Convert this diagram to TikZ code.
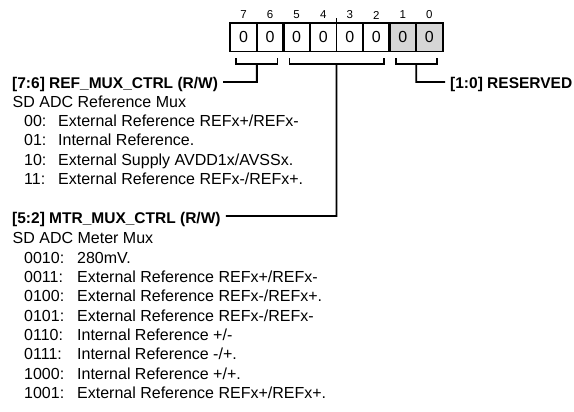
\documentclass[tikz,border=0pt]{standalone}
\usepackage{fontspec}
\setmainfont{Liberation Sans}
\definecolor{resfill}{HTML}{D6D6D6}
\begin{document}
\begin{tikzpicture}[x=1bp,y=-1bp,
  bitbox/.style={draw, line width=1.8bp, minimum width=26.55bp, minimum height=28.5bp,
    inner sep=0pt, outer sep=0pt, font=\fontsize{16bp}{19bp}\selectfont},
  bitnum/.style={inner sep=0pt, font=\fontsize{11.5bp}{13bp}\selectfont},
  lbl/.style={anchor=base west, inner sep=0pt, font=\fontsize{15.5bp}{19bp}\selectfont\bfseries},
  txt/.style={anchor=base west, inner sep=0pt, font=\fontsize{16bp}{19bp}\selectfont},
  wire/.style={line width=1.8bp},
  fieldsep/.style={line width=3bp}]
\useasboundingbox (0,0) rectangle (574,411);
\coordinate (numrow) at (0,15);
% register boxes
\foreach \b/\f [count=\i from 0] in {7/white,6/white,5/white,4/white,3/white,2/white,1/resfill,0/resfill}{
  \node[bitbox, fill=\f] (b\b) at ({230.3+26.55*(\i+0.5)},37.25) {0};
  \node[bitnum] (n\b) at (b\b.center |- numrow) {\b};
}
\draw[fieldsep] (b6.north east) -- (b6.south east);
\draw[fieldsep] (b2.north east) -- (b2.south east);
\draw[line width=1.5bp] (b4.north east) -- ++(0,-5);
% brackets
\draw[wire] ([shift={(6bp,-6.5bp)}]b7.south west) |- ([shift={(-6bp,-12.5bp)}]b6.south east) -- ++(0,-6);
\draw[wire] ([shift={(6bp,-6.5bp)}]b5.south west) |- ([shift={(-6bp,-12.5bp)}]b2.south east) -- ++(0,-6);
\draw[wire] ([shift={(6bp,-6.5bp)}]b1.south west) |- ([shift={(-6bp,-12.5bp)}]b0.south east) -- ++(0,-6);
% labels
\node[lbl] (lab76) at (12,88.5) {[7:6] REF\_MUX\_CTRL (R/W)};
\node[lbl] (lab52) at (12,223) {[5:2] MTR\_MUX\_CTRL (R/W)};
\node[lbl] (lab10) at (450,88.5) {[1:0] RESERVED};
\coordinate (e76) at ([xshift=5bp]lab76.east);
\coordinate (e52) at ([xshift=5bp]lab52.east);
\coordinate (w10) at ([xshift=-5bp]lab10.west);
\coordinate (j76) at (256.85,82);
\coordinate (j52) at (336.5,216);
\coordinate (j10) at (416.15,82);
\draw[wire] ([yshift=-12.5bp]b7.south east) -- (j76) -- (j76 -| e76);
\draw[wire] ([yshift=-12.5bp]b4.south east) -- (j52) -- (j52 -| e52);
\draw[wire] ([yshift=-12.5bp]b1.south east) -- (j10) -- (j10 -| w10);
% block 1
\node[txt] (r0) at (12.5,107.2) {SD ADC Reference Mux};
\node[txt] (r1) at (24,126.2) {\makebox[34bp][l]{00:}External Reference REFx+/REFx-};
\node[txt] (r2) at (24,145.7) {\makebox[34bp][l]{01:}Internal Reference.};
\node[txt] (r3) at (24,165.2) {\makebox[34bp][l]{10:}External Supply AVDD1x/AVSSx.};
\node[txt] (r4) at (24,184.7) {\makebox[34bp][l]{11:}External Reference REFx-/REFx+.};
% block 2
\node[txt] (m0) at (12.5,243.7) {SD ADC Meter Mux};
\node[txt] (m1) at (24,263.2) {\makebox[53bp][l]{0010:}280mV.};
\node[txt] (m2) at (24,282.5) {\makebox[53bp][l]{0011:}External Reference REFx+/REFx-};
\node[txt] (m3) at (24,301.8) {\makebox[53bp][l]{0100:}External Reference REFx-/REFx+.};
\node[txt] (m4) at (24,321.1) {\makebox[53bp][l]{0101:}External Reference REFx-/REFx-};
\node[txt] (m5) at (24,340.4) {\makebox[53bp][l]{0110:}Internal Reference +/-};
\node[txt] (m6) at (24,359.7) {\makebox[53bp][l]{0111:}Internal Reference -/+.};
\node[txt] (m7) at (24,379) {\makebox[53bp][l]{1000:}Internal Reference +/+.};
\node[txt] (m8) at (24,398.3) {\makebox[53bp][l]{1001:}External Reference REFx+/REFx+.};
\end{tikzpicture}
\end{document}
